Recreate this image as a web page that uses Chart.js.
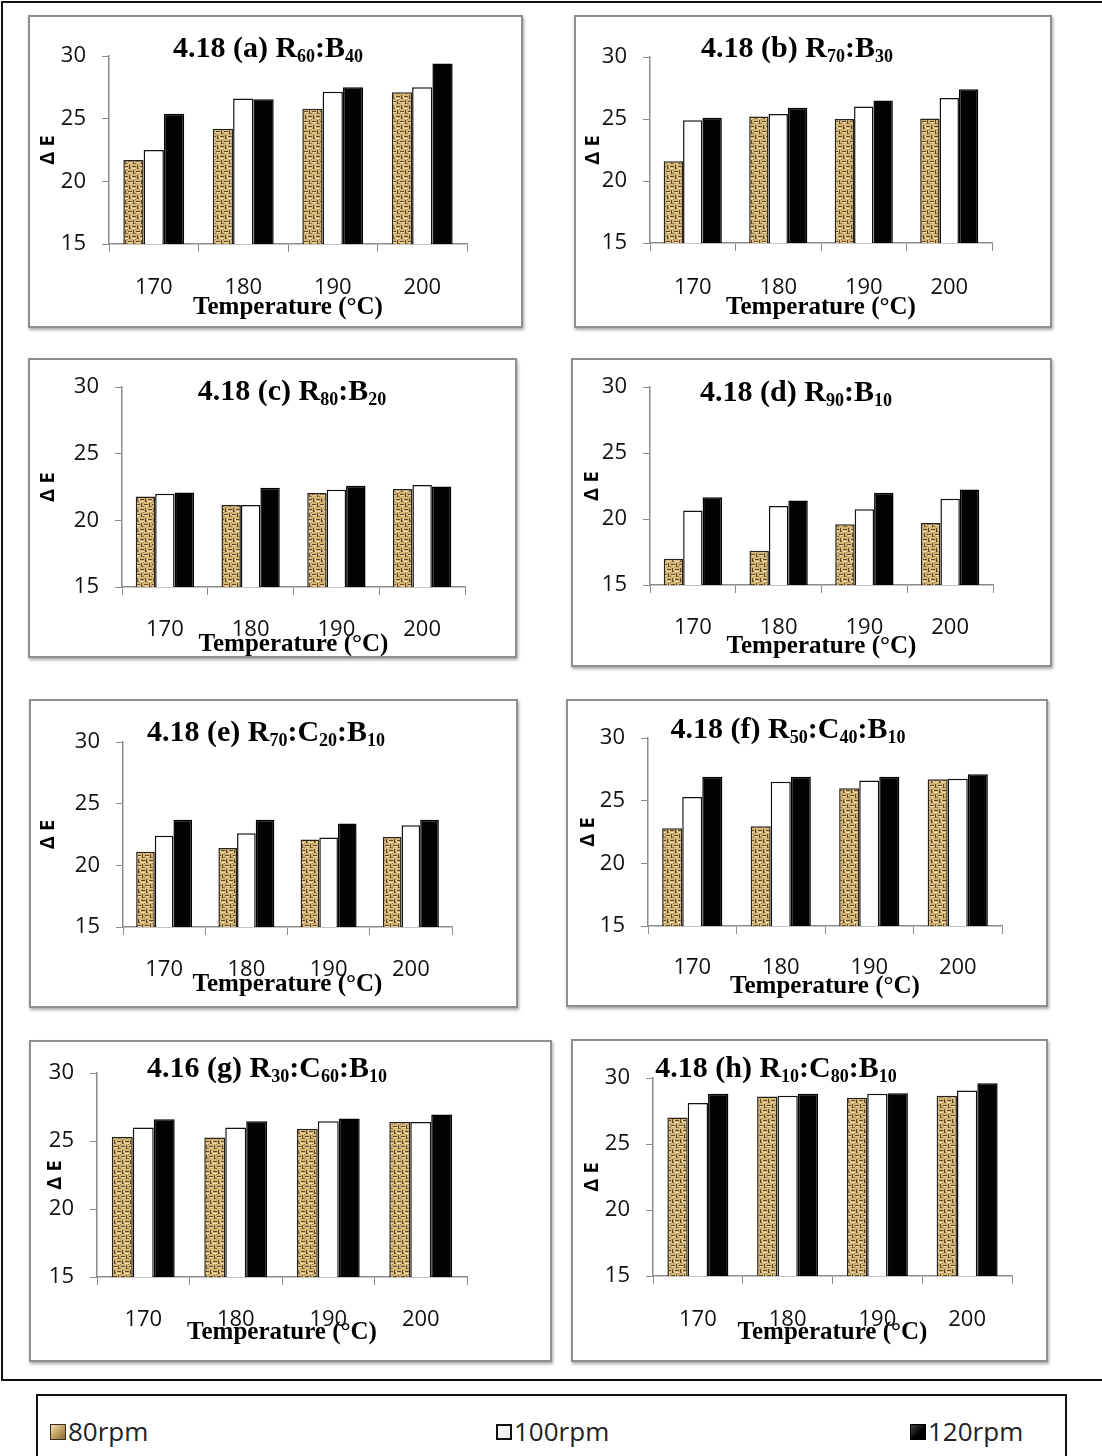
<!DOCTYPE html>
<html>
<head>
<meta charset="utf-8">
<script src="https://cdn.jsdelivr.net/npm/chart.js@4.4.1/dist/chart.umd.min.js"></script>
<style>
  html, body { margin: 0; padding: 0; background: #fff; overflow: hidden; }
  #page { position: relative; width: 1102px; height: 1456px; overflow: hidden; background: #fff; }
  .frame { position: absolute; box-sizing: border-box; border: 2px solid #111; }
  .box { position: absolute; box-sizing: border-box; border: 2px solid #8e8e8e; box-shadow: 1px 2px 3px rgba(0,0,0,0.35); background: #fff; }
  canvas.panel { position: absolute; }
  .ttl { position: absolute; transform: translateX(-50%); white-space: nowrap; font-family: 'Liberation Serif', 'Times New Roman', serif; font-weight: bold; font-size: 30px; line-height: 30px; color: #000; }
  .ttl sub { font-size: 18px; vertical-align: baseline; position: relative; top: 5px; }
  .lg { position: absolute; font-family: 'Open Sans', sans-serif; font-size: 26px; line-height: 26px; color: #222; }
  .sq { position: absolute; width: 16px; height: 16px; box-sizing: border-box; }
</style>
</head>
<body>
<div id="page">
  <div class="frame" style="left:1px; top:1px; width:1120px; height:1380px;"></div>
</div>
<script>
// categories
const temps = ['170', '180', '190', '200'];
const seriesNames = ['80rpm', '100rpm', '120rpm'];

// ΔE values per panel, one array per rotor speed
const a80 = [21.7, 24.2, 25.8, 27.1];
const a100 = [22.5, 26.6, 27.15, 27.5];
const a120 = [25.4, 26.55, 27.5, 29.4];

const b80 = [21.6, 25.2, 25.0, 25.05];
const b100 = [24.9, 25.4, 26.0, 26.7];
const b120 = [25.1, 25.9, 26.5, 27.4];

const c80 = [21.8, 21.15, 22.05, 22.35];
const c100 = [22.0, 21.15, 22.3, 22.65];
const c120 = [22.1, 22.45, 22.6, 22.55];

const d80 = [17.0, 17.6, 19.6, 19.7];
const d100 = [20.65, 21.0, 20.75, 21.55];
const d120 = [21.65, 21.4, 22.0, 22.25];

const e80 = [21.1, 21.4, 22.1, 22.3];
const e100 = [22.4, 22.6, 22.25, 23.25];
const e120 = [23.7, 23.7, 23.4, 23.7];

const f80 = [22.8, 22.95, 26.0, 26.7];
const f100 = [25.3, 26.5, 26.6, 26.75];
const f120 = [26.9, 26.9, 26.9, 27.1];

const g80 = [25.3, 25.25, 25.9, 26.4];
const g100 = [26.0, 26.0, 26.45, 26.4];
const g120 = [26.6, 26.45, 26.65, 26.95];

const h80 = [27.0, 28.6, 28.5, 28.65];
const h100 = [28.1, 28.65, 28.8, 29.05];
const h120 = [28.8, 28.8, 28.85, 29.6];

// y axis ticks
const yMin = 15, yMax = 30, yStep = 5;

// panel titles
const titles = [
  '4.18 (a) R<sub>60</sub>:B<sub>40</sub>',
  '4.18 (b) R<sub>70</sub>:B<sub>30</sub>',
  '4.18 (c) R<sub>80</sub>:B<sub>20</sub>',
  '4.18 (d) R<sub>90</sub>:B<sub>10</sub>',
  '4.18 (e) R<sub>70</sub>:C<sub>20</sub>:B<sub>10</sub>',
  '4.18 (f) R<sub>50</sub>:C<sub>40</sub>:B<sub>10</sub>',
  '4.16 (g) R<sub>30</sub>:C<sub>60</sub>:B<sub>10</sub>',
  '4.18 (h) R<sub>10</sub>:C<sub>80</sub>:B<sub>10</sub>'
];
const panelData = [
  [a80, a100, a120], [b80, b100, b120], [c80, c100, c120], [d80, d100, d120],
  [e80, e100, e120], [f80, f100, f120], [g80, g100, g120], [h80, h100, h120]
];

// layout: box [l,t,r,b], plot [l,t,r,b], y-title x, x-label y, x-title y, title centre
const layout = [
  { box: [28, 15, 523, 328],    plot: [109, 56, 467, 244],   dx: 48,  lab: 288,  tt: 308,  tc: [268, 47] },
  { box: [574, 15, 1052, 328],  plot: [650, 57, 992, 243],   dx: 593, lab: 288,  tt: 308,  tc: [797, 47] },
  { box: [28, 358, 517, 658],   plot: [122, 385, 465, 587],  dx: 48,  lab: 630,  tt: 645,  tc: [292, 390] },
  { box: [571, 358, 1052, 667], plot: [650, 374, 993, 585],  dx: 592, lab: 628,  tt: 647,  tc: [796, 391] },
  { box: [29, 699, 518, 1008],  plot: [123, 742, 452, 927],  dx: 48,  lab: 970,  tt: 985,  tc: [266, 731] },
  { box: [566, 699, 1048, 1007],plot: [648, 738, 1002, 926], dx: 588, lab: 968,  tt: 987,  tc: [788, 728] },
  { box: [29, 1040, 552, 1362], plot: [97, 1073, 467, 1277], dx: 55,  lab: 1320, tt: 1333, tc: [267, 1067] },
  { box: [571, 1039, 1048, 1362], plot: [653, 1078, 1012, 1276], dx: 592, lab: 1320, tt: 1333, tc: [776, 1067] }
];

// woven tan texture for the 80rpm bars
function makeWeave() {
  const c = document.createElement('canvas');
  c.width = 8; c.height = 10;
  const x = c.getContext('2d');
  x.fillStyle = '#d3b676';
  x.fillRect(0, 0, 8, 10);
  x.fillStyle = '#efdcaa';
  x.fillRect(0, 3, 4, 1);
  x.fillRect(5, 7, 3, 1);
  x.fillRect(7, 1, 1, 2);
  x.fillStyle = '#5e4626';
  x.fillRect(0, 1, 4, 1);
  x.fillRect(5, 0, 1, 4);
  x.fillRect(4, 6, 4, 1);
  x.fillRect(1, 5, 1, 4);
  x.fillStyle = '#9a7c48';
  x.fillRect(6, 2, 1, 2);
  x.fillRect(2, 8, 2, 1);
  x.fillRect(3, 4, 1, 1);
  return x.createPattern(c, 'repeat');
}

Chart.defaults.font.family = "'Open Sans', sans-serif";
Chart.defaults.color = '#111';

const page = document.getElementById('page');
const weave = makeWeave();
const axisGray = '#8c8c8c';

layout.forEach((L, i) => {
  const [bl, bt, br, bb] = L.box;
  const [pl, pt, pr, pb] = L.plot;
  const w = br - bl, h = bb - bt;

  const box = document.createElement('div');
  box.className = 'box';
  box.style.cssText = `left:${bl}px;top:${bt}px;width:${w}px;height:${h}px;`;
  page.appendChild(box);

  const cv = document.createElement('canvas');
  cv.className = 'panel';
  cv.width = w; cv.height = h;
  cv.style.cssText = `left:${bl}px;top:${bt}px;width:${w}px;height:${h}px;`;
  page.appendChild(cv);

  const t = document.createElement('div');
  t.className = 'ttl';
  t.innerHTML = titles[i];
  t.style.left = L.tc[0] + 'px';
  t.style.top = (L.tc[1] - 15) + 'px';
  page.appendChild(t);

  const tickFont = 22;
  const xTick = 8;
  const vals = panelData[i];

  new Chart(cv, {
    type: 'bar',
    data: {
      labels: temps,
      datasets: [
        { label: seriesNames[0], data: vals[0], backgroundColor: weave, borderColor: '#2a2116', borderWidth: 1.5 },
        { label: seriesNames[1], data: vals[1], backgroundColor: '#ffffff', borderColor: '#111', borderWidth: 1.5 },
        { label: seriesNames[2], data: vals[2], backgroundColor: '#030303', borderColor: '#000', borderWidth: 1.5 }
      ]
    },
    options: {
      responsive: false,
      animation: false,
      devicePixelRatio: 1,
      categoryPercentage: 0.68,
      barPercentage: 1.0,
      layout: { padding: { left: 0, top: pt - bt, right: br - pr, bottom: 0 } },
      plugins: { legend: { display: false }, tooltip: { enabled: false } },
      scales: {
        x: {
          afterFit: s => { s.height = bb - pb; },
          grid: { drawOnChartArea: false, tickLength: xTick, color: axisGray, offset: true },
          border: { color: axisGray, width: 1.5 },
          ticks: { font: { size: tickFont }, color: '#111', padding: L.lab - pb - xTick - tickFont * 0.6 },
          title: {
            display: true, text: 'Temperature (°C)', color: '#000',
            font: { family: "'Liberation Serif', 'Times New Roman', serif", size: 25, weight: 'bold', lineHeight: 1 },
            padding: { top: 0, bottom: bb - L.tt - 12.5 }
          }
        },
        y: {
          min: yMin, max: yMax,
          afterFit: s => { s.width = pl - bl; },
          grid: { drawOnChartArea: false, tickLength: 7, color: axisGray },
          border: { color: axisGray, width: 1.5 },
          ticks: { stepSize: yStep, font: { size: tickFont }, color: '#111', padding: 16 },
          title: {
            display: true, text: 'Δ E', color: '#000',
            font: { size: 20, weight: 'bold', lineHeight: 1 },
            padding: { top: L.dx - bl - 10, bottom: 0 }
          }
        }
      }
    }
  });
});

// shared legend box at the bottom
const lgBox = document.createElement('div');
lgBox.className = 'frame';
lgBox.style.cssText = 'left:36px;top:1394px;width:1031px;height:90px;';
page.appendChild(lgBox);

const lgX = [50, 496, 910];
const lgSwatch = [
  'background:linear-gradient(135deg,#f3e2b0,#b89656 60%,#8a6d3b);border:1.5px solid #3a2c18;',
  'background:linear-gradient(135deg,#fff,#e6e6e6);border:2px solid #111;',
  'background:linear-gradient(135deg,#444,#000 60%);border:1.5px solid #000;'
];
seriesNames.forEach((name, k) => {
  const sq = document.createElement('div');
  sq.className = 'sq';
  sq.style.cssText = `left:${lgX[k]}px;top:1424px;` + lgSwatch[k];
  page.appendChild(sq);
  const tx = document.createElement('div');
  tx.className = 'lg';
  tx.textContent = name;
  tx.style.left = (lgX[k] + 18) + 'px';
  tx.style.top = '1418px';
  page.appendChild(tx);
});
</script>
</body>
</html>
